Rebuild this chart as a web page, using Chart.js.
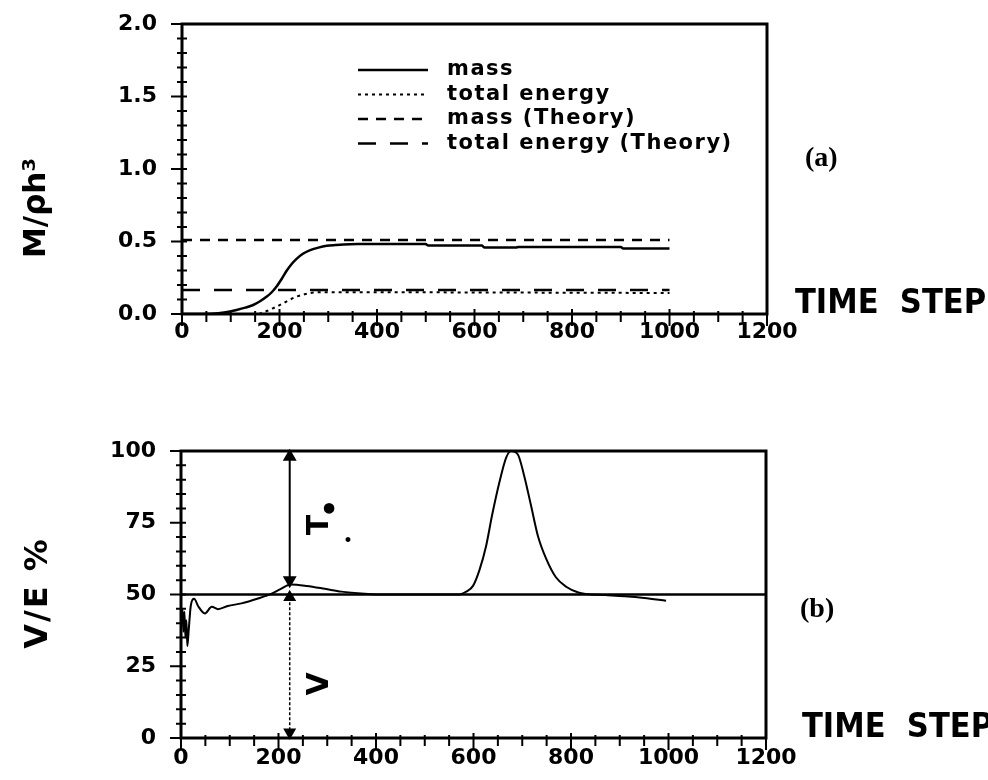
<!DOCTYPE html>
<html>
<head>
<meta charset="utf-8">
<script src="https://cdn.jsdelivr.net/npm/chart.js@4.4.1/dist/chart.umd.min.js"></script>
<style>
  html, body { margin:0; padding:0; background:#fff; }
  #wrap { position:relative; width:988px; height:780px; overflow:hidden; }
  canvas { position:absolute; left:0; }
  #chartA { top:0; }
  #chartB { top:380px; }
</style>
</head>
<body>
<div id="wrap">
  <canvas id="chartA" width="988" height="380"></canvas>
  <canvas id="chartB" width="988" height="400"></canvas>
</div>
<script>
// ── Data ──────────────────────────────────────────────────────────────────────
const X_TICKS   = [0, 200, 400, 600, 800, 1000, 1200];
const Y_TICKS_A = [0, 0.5, 1.0, 1.5, 2.0];
const Y_TICKS_B = [0, 25, 50, 75, 100];

// (a) mass and total energy vs time step
const MASS_T = [0, 60, 90, 112, 130, 146, 160, 174, 184, 194, 205, 215, 225, 235, 248, 263, 280, 297, 315, 331, 360, 500, 505, 615, 620, 685, 690, 900, 905, 1000];
const MASS   = [0, 0.002, 0.012, 0.028, 0.044, 0.062, 0.088, 0.12, 0.15, 0.19, 0.245, 0.30, 0.345, 0.38, 0.415, 0.44, 0.458, 0.47, 0.476, 0.48, 0.482, 0.482, 0.472, 0.472, 0.458, 0.458, 0.462, 0.462, 0.452, 0.452];
const ENERGY_T = [0, 155, 165, 180, 195, 208, 222, 235, 250, 263, 285, 320, 1000];
const ENERGY   = [0, 0, 0.008, 0.03, 0.052, 0.075, 0.1, 0.12, 0.135, 0.145, 0.15, 0.15, 0.145];
const THEORY_T  = [0, 1000];
const MASS_TH   = [0.51, 0.51];
const ENERGY_TH = [0.165, 0.165];

// (b) V/E % vs time step
const VE_T = [0, 3, 5, 7, 9, 11, 13, 16, 20, 27, 35, 49, 63, 76, 96, 124, 158, 186, 204, 225, 258, 295, 329, 377, 420, 571, 585, 599, 612, 626, 638, 653, 667, 677, 691, 704, 718, 732, 749, 769, 790, 815, 830, 870, 910, 950, 995];
const VE   = [42, 45, 37, 44, 35, 41, 32, 38, 46, 48.5, 46, 43.4, 45.7, 44.9, 46, 46.9, 48.6, 50.3, 51.9, 53.5, 53, 52, 51, 50.3, 50, 50, 51, 53, 58.4, 67, 77.5, 89, 97.7, 100, 98.8, 91.3, 81, 70.5, 62.5, 56, 52.7, 50.7, 50.2, 49.8, 49.4, 48.8, 47.8];
const HALF_T = [0, 1200];
const HALF   = [50, 50];
const ARROW_T   = [223, 223];
const ARROW_TOP = [98, 55];   // T arrow
const ARROW_BOT = [49, 2];    // V arrow

const SANS   = "'DejaVu Sans', sans-serif";
const NARROW = "'DejaVu Sans Condensed', 'Liberation Sans Narrow', 'DejaVu Sans', sans-serif";
const SERIF  = "'Liberation Serif', 'DejaVu Serif', serif";

function pts(xs, ys) { return xs.map((x, i) => ({ x, y: ys[i] })); }

// ── Plugins ───────────────────────────────────────────────────────────────────
// box frame + major/minor tick marks crossing the axes
const frameTicks = {
  id: "frameTicks",
  afterDatasetsDraw(chart, args, o) {
    const { ctx, chartArea: a, scales: { x, y } } = chart;
    ctx.save();
    ctx.strokeStyle = "#000";
    ctx.lineWidth = 3;
    ctx.strokeRect(a.left, a.top, a.right - a.left, a.bottom - a.top);
    ctx.lineWidth = 2;
    ctx.beginPath();
    const nx = Math.round((x.max - x.min) / o.xMinor);
    for (let i = 0; i <= nx; i++) {
      const v = x.min + i * o.xMinor, px = x.getPixelForValue(v);
      const major = X_TICKS.includes(v);
      ctx.moveTo(px, a.bottom - (major ? 5 : 3));
      ctx.lineTo(px, a.bottom + (major ? 12 : 8));
    }
    const ny = Math.round((y.max - y.min) / o.yMinor);
    for (let i = 0; i <= ny; i++) {
      const v = y.min + i * o.yMinor, py = y.getPixelForValue(v);
      const major = o.yMajor.some(m => Math.abs(m - v) < 1e-6);
      ctx.moveTo(a.left - (major ? 11 : 5), py);
      ctx.lineTo(a.left + 5, py);
    }
    ctx.stroke();
    ctx.restore();
  }
};

// free text: axis titles, panel labels, annotations
const textItems = {
  id: "textItems",
  afterDraw(chart, args, o) {
    const ctx = chart.ctx;
    (o.items || []).forEach(t => {
      ctx.save();
      ctx.font = t.font;
      ctx.fillStyle = "#000";
      ctx.textAlign = t.align || "left";
      ctx.textBaseline = t.base || "alphabetic";
      if (t.spacing) ctx.letterSpacing = t.spacing;
      ctx.translate(t.x, t.y);
      if (t.rot) ctx.rotate(t.rot * Math.PI / 180);
      ctx.fillText(t.text, 0, 0);
      ctx.restore();
    });
  }
};

// legend drawn inside the plot, line sample then label
const innerLegend = {
  id: "innerLegend",
  afterDraw(chart, args, o) {
    if (!o.show) return;
    const ctx = chart.ctx;
    ctx.save();
    ctx.font = o.font;
    ctx.letterSpacing = o.spacing || "0px";
    ctx.fillStyle = "#000";
    ctx.textBaseline = "middle";
    chart.data.datasets.filter(d => d.label).forEach((d, i) => {
      const y = o.y + i * o.row;
      ctx.strokeStyle = "#000";
      ctx.lineWidth = d.borderWidth;
      ctx.setLineDash(d.borderDash || []);
      ctx.beginPath();
      ctx.moveTo(o.x, y); ctx.lineTo(o.x + o.w, y);
      ctx.stroke();
      ctx.setLineDash([]);
      ctx.fillText(d.label, o.x + o.w + o.gap, y);
    });
    ctx.restore();
  }
};

function xScale(height, pad) {
  return {
    type: "linear", min: 0, max: 1200,
    afterBuildTicks: s => { s.ticks = X_TICKS.map(v => ({ value: v })); },
    afterFit: s => { s.height = height; },
    grid: { display: false, drawTicks: false },
    border: { display: false },
    ticks: { color: "#000", padding: pad, maxRotation: 0, callback: v => String(v),
             font: { family: SANS, size: 22, weight: "bold" } }
  };
}
function yScale(ticks, max, width, fmtTick) {
  return {
    type: "linear", min: 0, max,
    afterBuildTicks: s => { s.ticks = ticks.map(v => ({ value: v })); },
    // fixed axis width; drop label overflow padding so the plot top stays put
    afterFit: s => { s.width = width; s.paddingTop = 0; s.paddingBottom = 0; },
    grid: { display: false, drawTicks: false },
    border: { display: false },
    ticks: { color: "#000", padding: 25, callback: fmtTick, font: { family: SANS, size: 22, weight: "bold" } }
  };
}

Chart.defaults.font.family = SANS;

// ── (a) mass / energy ─────────────────────────────────────────────────────────
new Chart(document.getElementById("chartA"), {
  type: "line",
  data: {
    datasets: [
      { label: "mass", data: pts(MASS_T, MASS), borderColor: "#000", borderWidth: 2.5, pointRadius: 0, cubicInterpolationMode: "monotone" },
      { label: "total energy", data: pts(ENERGY_T, ENERGY), borderColor: "#000", borderWidth: 2, borderDash: [3, 4], pointRadius: 0, cubicInterpolationMode: "monotone" },
      { label: "mass (Theory)", data: pts(THEORY_T, MASS_TH), borderColor: "#000", borderWidth: 2.5, borderDash: [10, 8], pointRadius: 0 },
      { label: "total energy (Theory)", data: pts(THEORY_T, ENERGY_TH), borderColor: "#000", borderWidth: 2.5, borderDash: [18, 14], pointRadius: 0 }
    ]
  },
  options: {
    responsive: false, animation: false, events: [],
    layout: { padding: { left: 0, right: 221, top: 24, bottom: 0 } },
    scales: {
      x: xScale(66, 5),
      y: yScale(Y_TICKS_A, 2, 182, v => v.toFixed(1))
    },
    plugins: {
      legend: { display: false },
      tooltip: { enabled: false },
      frameTicks: { xMinor: 50, yMinor: 0.1, yMajor: Y_TICKS_A },
      innerLegend: { show: true, x: 358, y: 70, w: 70, gap: 19, row: 24.5, font: `bold 21px ${SANS}`, spacing: "1.5px" },
      textItems: { items: [
        { text: "M/ρh³", x: 45, y: 208, rot: -90, align: "center", font: `bold 31px ${SANS}` },
        { text: "TIME  STEP", x: 795, y: 313, font: `bold 34px ${NARROW}` },
        { text: "(a)", x: 805, y: 166, font: `bold 28px ${SERIF}` }
      ] }
    }
  },
  plugins: [frameTicks, innerLegend, textItems]
});

// ── (b) V/E % ─────────────────────────────────────────────────────────────────
new Chart(document.getElementById("chartB"), {
  type: "line",
  data: {
    datasets: [
      { data: pts(HALF_T, HALF), borderColor: "#000", borderWidth: 2.5, pointRadius: 0 },
      { data: pts(VE_T, VE), borderColor: "#000", borderWidth: 2, pointRadius: 0, cubicInterpolationMode: "monotone" },
      { data: pts(ARROW_T, ARROW_TOP), borderColor: "#000", borderWidth: 2, clip: false,
        pointStyle: "triangle", pointRadius: 6, pointRotation: [0, 180], pointBackgroundColor: "#000", pointBorderColor: "#000" },
      { data: pts(ARROW_T, ARROW_BOT), borderColor: "#000", borderWidth: 1.5, borderDash: [3, 2], clip: false,
        pointStyle: "triangle", pointRadius: 6, pointRotation: [0, 180], pointBackgroundColor: "#000", pointBorderColor: "#000" }
    ]
  },
  options: {
    responsive: false, animation: false, events: [],
    layout: { padding: { left: 0, right: 222, top: 71, bottom: 0 } },
    scales: {
      x: xScale(42, 7),
      y: yScale(Y_TICKS_B, 100, 181, v => String(v))
    },
    plugins: {
      legend: { display: false },
      tooltip: { enabled: false },
      frameTicks: { xMinor: 50, yMinor: 5, yMajor: Y_TICKS_B },
      innerLegend: { show: false },
      textItems: { items: [
        { text: "V/E %", x: 47, y: 213, rot: -90, align: "center", font: `bold 32px ${SANS}`, spacing: "2px" },
        { text: "TIME  STEP", x: 802, y: 357, font: `bold 34px ${NARROW}` },
        { text: "(b)", x: 800, y: 237, font: `bold 28px ${SERIF}` },
        { text: "T", x: 328, y: 145, rot: -90, align: "center", font: `bold 30px ${SANS}` },
        { text: "•", x: 329, y: 132, align: "center", base: "middle", font: `bold 30px ${SANS}` },
        { text: "•", x: 348, y: 161, align: "center", base: "middle", font: `bold 14px ${SANS}` },
        { text: "V", x: 328, y: 304, rot: -90, align: "center", font: `bold 30px ${SANS}` }
      ] }
    }
  },
  plugins: [frameTicks, innerLegend, textItems]
});
</script>
</body>
</html>
